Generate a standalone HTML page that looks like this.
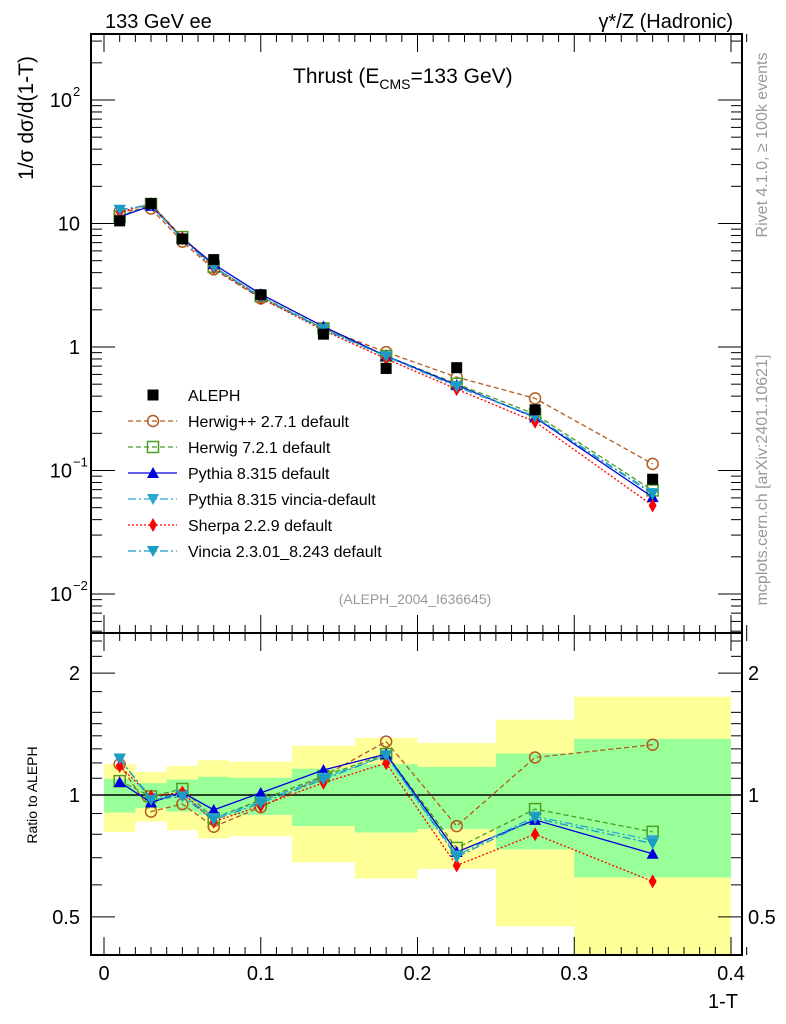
<!DOCTYPE html>
<html><head><meta charset="utf-8"><style>
body{margin:0;background:#fff}
svg{display:block;font-family:"Liberation Sans",sans-serif}
</style></head><body>
<svg id="c" width="786" height="1024" viewBox="0 0 786 1024"></svg>
<script>
const xs=[0.01,0.03,0.05,0.07,0.1,0.14,0.18,0.225,0.275,0.35];
const binEdges=[0,0.02,0.04,0.06,0.08,0.12,0.16,0.2,0.25,0.3,0.4];
const aleph=[10.5,14.5,7.5,5.1,2.65,1.27,0.67,0.68,0.31,0.085];
const rHerwigpp=[1.191,0.910,0.950,0.835,0.933,1.113,1.355,0.838,1.238,1.331];
const rHerwig7=[1.082,0.992,1.035,0.876,0.973,1.113,1.262,0.740,0.923,0.811];
const rPythia=[1.076,0.959,1.015,0.919,1.012,1.153,1.262,0.723,0.868,0.716];
const rPyVincia=[1.226,0.983,1.002,0.876,0.964,1.103,1.249,0.709,0.885,0.773];
const rSherpa=[1.179,0.992,1.015,0.859,0.940,1.072,1.198,0.670,0.800,0.612];
const rVincia=[1.231,0.973,0.992,0.868,0.955,1.092,1.254,0.702,0.876,0.759];
const bandInnerHi=[1.096,1.07,1.092,1.109,1.103,1.161,1.191,1.173,1.266,1.376];
const bandInnerLo=[0.905,0.928,0.91,0.893,0.893,0.838,0.808,0.824,0.734,0.626];
const bandOuterHi=[1.191,1.14,1.18,1.219,1.209,1.323,1.383,1.344,1.534,1.749];
const bandOuterLo=[0.811,0.859,0.819,0.781,0.791,0.682,0.622,0.657,0.474,0.35];
const xTicks=[0,0.1,0.2,0.3,0.4];
const xTickLabels=["0","0.1","0.2","0.3","0.4"];
const ratioTicks=[0.5,1,2];
const ratioTickLabels=["0.5","1","2"];

const L=91,R=742,T=34,MB=633,RB=955;
const X=v=>104+v*(731-104)/0.4;
const Y=v=>347-123.5*Math.log10(v);
const RY=v=>795-405*Math.log10(v);
const svg=document.getElementById('c');
const NS='http://www.w3.org/2000/svg';
function mk(tag,at,parent){const e=document.createElementNS(NS,tag);for(const k in at)e.setAttribute(k,at[k]);(parent||svg).appendChild(e);return e;}
function txt(s,at,parent){const e=mk('text',at,parent);e.textContent=s;return e;}

const bands=mk('g',{});


for(let i=0;i<xs.length;i++){
  const x0=X(binEdges[i]),x1=X(binEdges[i+1]);
  const yo=mk('rect',{x:x0,y:RY(bandOuterHi[i]),width:x1-x0,height:Math.min(RB,RY(bandOuterLo[i]))-RY(bandOuterHi[i]),fill:'#ffff99'},bands);
  
  
}
for(let i=0;i<xs.length;i++){
  const x0=X(binEdges[i]),x1=X(binEdges[i+1]);
  const g=mk('rect',{x:x0,y:RY(bandInnerHi[i]),width:x1-x0,height:RY(bandInnerLo[i])-RY(bandInnerHi[i]),fill:'#99ff99'},bands);
  
  
}
mk('line',{x1:L,x2:R,y1:RY(1),y2:RY(1),stroke:'#000','stroke-width':1.5});

const f1=mk('rect',{x:L,y:T,width:R-L,height:MB-T,fill:'none',stroke:'#000','stroke-width':2});

const f2=mk('rect',{x:L,y:MB,width:R-L,height:RB-MB,fill:'none',stroke:'#000','stroke-width':2});


const tk=mk('g',{stroke:'#000','stroke-width':1});
for(let k=0;k<=41;k++){
  const v=k*0.01,x=X(v),maj=k%10===0,len=maj?18:8;
  [T,MB,RB].forEach(y0=>{mk('line',{x1:x,x2:x,y1:y0,y2:y0-len*(y0===T?-1:1)},tk);});
  mk('line',{x1:x,x2:x,y1:MB,y2:MB+len},tk);
}
xTicks.forEach((v,i)=>{const t=txt(xTickLabels[i],{x:X(v),y:980,'font-size':20,'text-anchor':'middle'});});
for(let d=-3;d<=2;d++){for(let m=1;m<=9;m++){const v=m*Math.pow(10,d),y=Y(v);if(y<T||y>MB)continue;const len=m===1?24:11;
 mk('line',{x1:L,x2:L+len,y1:y,y2:y},tk);mk('line',{x1:R,x2:R-len,y1:y,y2:y},tk);}}
[[100,'10','2'],[10,'10',''],[1,'1',''],[0.1,'10','−1'],[0.01,'10','−2']].forEach(a=>{
 const t=txt(a[1],{x:a[2]?72:80,y:Y(a[0])+7,'font-size':20,'text-anchor':'end'});
 
 if(a[2]){txt(a[2],{x:73,y:Y(a[0])-4,'font-size':13});}
});
const rminor=[0.4,0.5,0.6,0.7,0.8,0.9,1,1.1,1.2,1.3,1.4,1.5,1.6,1.8,2,2.2,2.4];
rminor.forEach(v=>{const y=RY(v);if(y<MB||y>RB)return;const len=(v===0.5||v===1||v===2)?24:11;
 mk('line',{x1:L,x2:L+len,y1:y,y2:y},tk);mk('line',{x1:R,x2:R-len,y1:y,y2:y},tk);});
ratioTicks.forEach((v,i)=>{
 const a=txt(ratioTickLabels[i],{x:80,y:RY(v)+7,'font-size':20,'text-anchor':'end'});
 const b=txt(ratioTickLabels[i],{x:748,y:RY(v)+7,'font-size':20});
});

const series=[
 {name:'herwigpp',r:rHerwigpp,c:'#b35c1e',dash:'5,3',m:'circle'},
 {name:'herwig7',r:rHerwig7,c:'#4a9e22',dash:'5,3',m:'square'},
 {name:'pythia',r:rPythia,c:'#0000dd',dash:'',m:'up'},
 {name:'pythia-vincia',r:rPyVincia,c:'#2aa8d0',dash:'8,3,2,3',m:'down'},
 {name:'sherpa',r:rSherpa,c:'#ff0000',dash:'2,2',m:'diamond'},
 {name:'vincia',r:rVincia,c:'#1a9cc4',dash:'8,3,2,3',m:'down'}
];
function marker(type,x,y,c,g){
 let e;
 if(type==='circle')e=mk('circle',{cx:x,cy:y,r:5.5,fill:'none',stroke:c,'stroke-width':1.5},g);
 else if(type==='square')e=mk('rect',{x:x-5.5,y:y-5.5,width:11,height:11,fill:'none',stroke:c,'stroke-width':1.5},g);
 else if(type==='up')e=mk('polygon',{points:`${x},${y-6} ${x-6},${y+5} ${x+6},${y+5}`,fill:c},g);
 else if(type==='down')e=mk('polygon',{points:`${x},${y+6} ${x-6},${y-5} ${x+6},${y-5}`,fill:c},g);
 else if(type==='diamond')e=mk('polygon',{points:`${x},${y-7} ${x-4},${y} ${x},${y+7} ${x+4},${y}`,fill:c},g);
 else e=mk('rect',{x:x-5.5,y:y-5.5,width:11,height:11,fill:c},g);
 return e;
}
series.forEach(s=>{
 const g=mk('g',{});
 
 
 const mainPts=xs.map((x,i)=>X(x)+','+Y(aleph[i]*s.r[i])).join(' ');
 const ratPts=xs.map((x,i)=>X(x)+','+RY(s.r[i])).join(' ');
 mk('polyline',{points:mainPts,fill:'none',stroke:s.c,'stroke-width':1.3,'stroke-dasharray':s.dash},g);
 mk('polyline',{points:ratPts,fill:'none',stroke:s.c,'stroke-width':1.3,'stroke-dasharray':s.dash},g);
 xs.forEach((x,i)=>{
  const m1=marker(s.m,X(x),Y(aleph[i]*s.r[i]),s.c,g);
  
  
  const m2=marker(s.m,X(x),RY(s.r[i]),s.c,g);
  
  
 });
});
const dg=mk('g',{});


xs.forEach((x,i)=>{
 const m=marker('fsq',X(x),Y(aleph[i]),'#000',dg);
 
 
});

const leg=[['ALEPH','#000','','fsq'],['Herwig++ 2.7.1 default','#b35c1e','5,3','circle'],['Herwig 7.2.1 default','#4a9e22','5,3','square'],['Pythia 8.315 default','#0000dd','','up'],['Pythia 8.315 vincia-default','#2aa8d0','8,3,2,3','down'],['Sherpa 2.2.9 default','#ff0000','2,2','diamond'],['Vincia 2.3.01_8.243 default','#1a9cc4','8,3,2,3','down']];
leg.forEach((l,i)=>{
 const y=395+26*i;
 const g=mk('g',{});
 
 
 if(i>0)mk('line',{x1:128,x2:177,y1:y,y2:y,stroke:l[1],'stroke-width':1.3,'stroke-dasharray':l[2]},g);
 marker(l[3],153,y,l[1],g);
 txt(l[0],{x:188,y:y+6,'font-size':16},g);
});
</script>
<div style="position:absolute;left:0;top:0;width:786px;height:1024px;pointer-events:none">
<svg width="786" height="1024" style="font-family:'Liberation Sans',sans-serif">
<text x="105" y="28" font-size="20">133 GeV ee</text>
<text x="733" y="28" font-size="20" text-anchor="end">γ*/Z (Hadronic)</text>
<text x="293" y="83" font-size="21">Thrust (E<tspan font-size="14" dy="6">CMS</tspan><tspan dy="-6">=133 GeV)</tspan></text>
<text x="415" y="604" font-size="14" fill="#999" text-anchor="middle">(ALEPH_2004_I636645)</text>
<text transform="translate(33,118) rotate(-90)" font-size="21" text-anchor="middle">1/σ  dσ/d(1-T)</text>
<text transform="translate(37,795) rotate(-90)" font-size="14" text-anchor="middle">Ratio to ALEPH</text>
<text x="738" y="1008" font-size="20" text-anchor="end">1-T</text>
<text transform="translate(767,145) rotate(-90)" font-size="16" fill="#999" text-anchor="middle">Rivet 4.1.0, ≥ 100k events</text>
<text transform="translate(767,480) rotate(-90)" font-size="16" fill="#999" text-anchor="middle">mcplots.cern.ch [arXiv:2401.10621]</text>
</svg></div>
</body></html>
